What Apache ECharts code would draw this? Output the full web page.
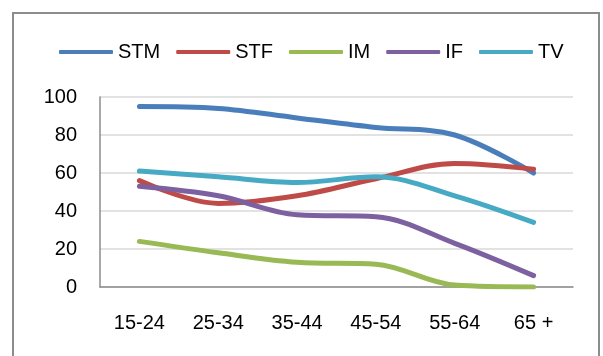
<!DOCTYPE html>
<html>
<head>
<meta charset="utf-8">
<script src="https://cdn.jsdelivr.net/npm/echarts@6/dist/echarts.min.js"></script>
<style>
  html, body { margin: 0; padding: 0; background: #fff; }
  #chart { width: 603px; height: 356px; }
</style>
</head>
<body>
<div id="chart"></div>
<script>
// Age groups on the x axis
const ageGroups = ['15-24', '25-34', '35-44', '45-54', '55-64', '65 +'];

// Share per age group for each medium
const stm = [95, 94, 89, 84, 80, 60];
const stf = [56, 44, 48, 57, 65, 62];
const im  = [24, 18, 13, 12, 1, 0];
const ifData = [53, 48, 38, 37, 23, 6];
const tv  = [61, 58, 55, 58, 48, 34];

const yTicks = { min: 0, max: 100, interval: 20 };

const seriesDefs = [
  { name: 'STM', data: stm,    color: '#4a7ebb' },
  { name: 'STF', data: stf,    color: '#be4b48' },
  { name: 'IM',  data: im,     color: '#98b954' },
  { name: 'IF',  data: ifData, color: '#7d60a0' },
  { name: 'TV',  data: tv,     color: '#46aac5' }
];

const font = 'Liberation Sans, Arial, sans-serif';
const chart = echarts.init(document.getElementById('chart'), null, { renderer: 'canvas' });

chart.setOption({
  animation: false,
  backgroundColor: '#ffffff',
  graphic: [{
    type: 'rect',
    shape: { x: 13, y: 13, width: 586, height: 360 },
    style: { fill: 'none', stroke: '#8c8c8c', lineWidth: 2 },
    silent: true,
    z: 0
  }],
  legend: {
    left: 54,
    top: 37,
    icon: 'roundRect',
    itemWidth: 54,
    itemHeight: 4,
    itemGap: 16,
    textStyle: { fontFamily: font, fontSize: 20, color: '#000' },
    data: seriesDefs.map(s => s.name)
  },
  grid: { left: 100, right: 30, top: 97, bottom: 69, containLabel: false },
  xAxis: {
    type: 'category',
    data: ageGroups,
    boundaryGap: true,
    axisLine: { show: true, lineStyle: { color: '#8c8c8c', width: 1.5 } },
    axisTick: { show: false },
    axisLabel: { fontFamily: font, fontSize: 20, color: '#000', margin: 26 }
  },
  yAxis: {
    type: 'value',
    min: yTicks.min,
    max: yTicks.max,
    interval: yTicks.interval,
    axisLine: { show: true, lineStyle: { color: '#8c8c8c', width: 1.5 } },
    axisTick: { show: false },
    axisLabel: { fontFamily: font, fontSize: 20, color: '#000', margin: 23 },
    splitLine: { show: true, lineStyle: { color: '#d9d9d9', width: 1.5 } }
  },
  series: seriesDefs.map(s => ({
    name: s.name,
    type: 'line',
    data: s.data,
    smooth: 0.35,
    symbol: 'none',
    color: s.color,
    lineStyle: { color: s.color, width: 5, cap: 'round' }
  }))
});
</script>
</body>
</html>
